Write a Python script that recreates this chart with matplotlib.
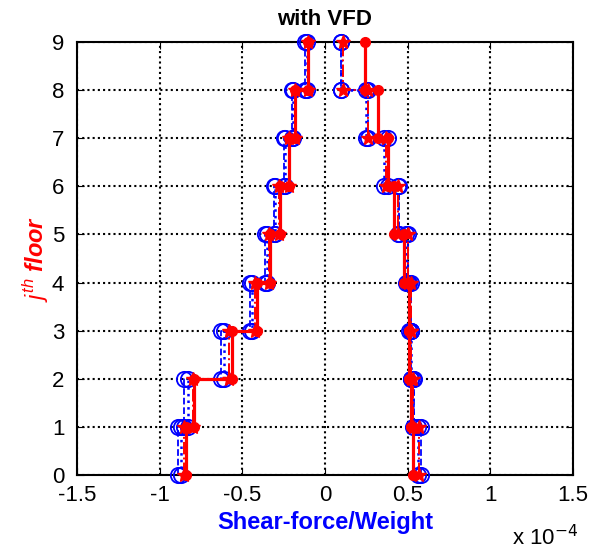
import numpy as np
import matplotlib
matplotlib.use("Agg")
import matplotlib.pyplot as plt

plt.rcParams['font.family'] = ['Liberation Sans', 'DejaVu Sans']
plt.rcParams['mathtext.fontset'] = 'custom'
plt.rcParams['mathtext.it'] = 'Liberation Sans:italic'
plt.rcParams['mathtext.rm'] = 'Liberation Sans'

floors = np.arange(0, 10)
# storey shear / weight values (units of 1e-4), storeys 0..8
left_a = [-0.89, -0.85, -0.63, -0.45, -0.36, -0.31, -0.25, -0.20, -0.12]
left_b = [-0.87, -0.83, -0.61, -0.44, -0.35, -0.30, -0.24, -0.19, -0.11]
left_c = [-0.85, -0.80, -0.58, -0.42, -0.34, -0.28, -0.22, -0.18, -0.10]
left_d = [-0.84, -0.79, -0.56, -0.41, -0.33, -0.27, -0.22, -0.18, -0.10]

right_a = [0.58, 0.54, 0.52, 0.52, 0.50, 0.45, 0.38, 0.26, 0.10]
right_b = [0.56, 0.53, 0.52, 0.51, 0.49, 0.44, 0.36, 0.25, 0.10]
right_c = [0.57, 0.53, 0.52, 0.52, 0.50, 0.44, 0.37, 0.26, 0.11]
right_d = [0.53, 0.52, 0.51, 0.51, 0.48, 0.42, 0.38, 0.32, 0.24]

xticks = [-1.5, -1, -0.5, 0, 0.5, 1, 1.5]
xticklabels = ['-1.5', '-1', '-0.5', '0', '0.5', '1', '1.5']

def stairs(v):
    v = np.asarray(v)
    xs = np.repeat(v, 2)
    ys = np.concatenate([[i, i + 1] for i in range(len(v))])
    return xs, ys

fig = plt.figure(figsize=(6, 5.5), dpi=100)
ax = fig.add_axes([0.128, 0.1364, 0.827, 0.7872])

styles = [
    dict(color='blue', ls='--', marker='o', ms=11, mfc='none', mew=1.3, lw=1.3),
    dict(color='blue', ls=':', marker='o', ms=11, mfc='none', mew=1.3, lw=1.8),
    dict(color='red', ls='-.', marker='*', ms=10, mew=1.0, lw=1.4),
    dict(color='red', ls='-', marker='o', ms=7, mfc='red', mec='red', lw=2.3),
]
for vals, st in zip([left_a, left_b, left_c, left_d], styles):
    xs, ys = stairs(vals)
    ax.plot(xs, ys, clip_on=False, zorder=3, **st)
for vals, st in zip([right_a, right_b, right_c, right_d], styles):
    xs, ys = stairs(vals)
    ax.plot(xs, ys, clip_on=False, zorder=3, **st)

ax.set_xlim(-1.5, 1.5)
ax.set_ylim(0, 9)
ax.set_xticks(xticks)
ax.set_xticklabels(xticklabels)
ax.set_yticks(floors)
ax.tick_params(direction='in', top=True, right=True, labelsize=16, length=5)
ax.tick_params(axis='x', pad=7)
ax.tick_params(axis='y', pad=9)
ax.grid(True, color='black', ls=(0, (1, 1.5)), lw=1.5)
for s in ax.spines.values():
    s.set_linewidth(1.5)

ax.set_title('with VFD', fontsize=16, fontweight='bold', pad=12)
ax.set_xlabel('Shear-force/Weight', fontsize=17, fontweight='bold', color='blue', labelpad=4)
ax.set_ylabel(r'$j^{th}$ floor', fontsize=17, fontweight='bold', style='italic', color='red')
ax.yaxis.set_label_coords(-0.051, 0.5)
fig.text(0.853, 0.008, r'x 10$^{\mathsf{-4}}$', fontsize=16)

fig.savefig('out.png', dpi=100)
